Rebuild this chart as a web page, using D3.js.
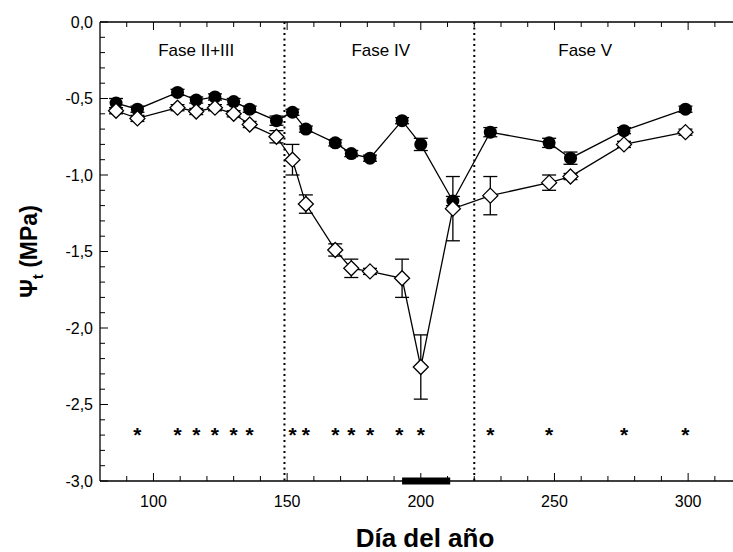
<!DOCTYPE html>
<html><head><meta charset="utf-8">
<script src="https://cdn.jsdelivr.net/npm/d3@7/dist/d3.min.js"></script>
<style>body{margin:0;background:#fff}svg{display:block}text{font-family:Arial,"Liberation Sans",sans-serif;fill:#000}</style>
</head><body><svg id="c" width="733" height="552"></svg>
<script>
const days = [86,94,109,116,123,130,136,146,152,157,168,174,181,193,200,212,226,248,256,276,299];
const closedVals = [-0.53,-0.57,-0.46,-0.51,-0.49,-0.52,-0.57,-0.645,-0.59,-0.70,-0.79,-0.86,-0.89,-0.645,-0.80,-1.17,-0.72,-0.79,-0.89,-0.71,-0.57];
const closedErr  = [0.03,0.02,0.02,0.02,0.02,0.02,0.02,0.03,0.02,0.02,0.02,0.02,0.02,0.02,0.04,0.03,0.03,0.03,0.04,0.02,0.02];
const openVals   = [-0.58,-0.63,-0.56,-0.585,-0.56,-0.60,-0.67,-0.75,-0.90,-1.19,-1.49,-1.61,-1.63,-1.675,-2.255,-1.22,-1.135,-1.05,-1.01,-0.80,-0.72];
const openErr    = [0.02,0.02,0.02,0.02,0.02,0.02,0.02,0.04,0.10,0.06,0.04,0.06,0.02,0.125,0.21,0.21,0.125,0.05,0.02,0.02,0.02];
const starDays = [94,109,116,123,130,136,152,157,168,174,181,192,200,226,248,276,299];
const starY = -2.68;
const phaseBounds = [149,220];
const phaseLabels = [{t:"Fase II+III",d:116},{t:"Fase IV",d:185},{t:"Fase V",d:261.5}];
const barRange = [193,211];
const xMajor = [100,150,200,250,300];
const yMajor = [0,-0.5,-1,-1.5,-2,-2.5,-3];
const xDomain = [80,320], yDomain = [-3,0];

const svg = d3.select("#c");
const L=100, R=741.6, T=22, B=481;
const x = d3.scaleLinear().domain(xDomain).range([L,R]);
const y = d3.scaleLinear().domain(yDomain).range([B,T]);
const fmt = d => d3.format(".1f")(d).replace(".",",").replace("−","-");

const g = svg.append("g");
g.append("line").attr("x1",L).attr("x2",L).attr("y1",T).attr("y2",B).attr("stroke","#000").attr("stroke-width",1.3);
g.append("line").attr("x1",L).attr("x2",R).attr("y1",B).attr("y2",B).attr("stroke","#000").attr("stroke-width",1.3);
g.append("line").attr("x1",L).attr("x2",R).attr("y1",T).attr("y2",T).attr("stroke","#000").attr("stroke-width",1.3);

const yMinor = d3.range(-3,0.001,0.1);
g.selectAll(".ymin").data(yMinor).enter().append("line")
  .attr("x1",L).attr("x2",d=>L+(Math.abs(Math.round(d*10))%5===0?8:5)).attr("y1",d=>y(d)).attr("y2",d=>y(d)).attr("stroke","#000").attr("stroke-width",1);
g.selectAll(".ylab").data(yMajor).enter().append("text")
  .attr("x",L-7).attr("y",d=>y(d)+5.5).attr("text-anchor","end").attr("font-size",16).text(d=>fmt(d));

const xMinor = d3.range(90,320,10);
g.selectAll(".xmin").data(xMinor).enter().append("line")
  .attr("x1",d=>x(d)).attr("x2",d=>x(d)).attr("y1",B).attr("y2",d=>B-(d%50===0?8:5)).attr("stroke","#000").attr("stroke-width",1);
g.selectAll(".xtop").data(xMinor).enter().append("line")
  .attr("x1",d=>x(d)).attr("x2",d=>x(d)).attr("y1",T).attr("y2",d=>T+(d%50===0?8:5)).attr("stroke","#000").attr("stroke-width",1);
g.selectAll(".xlab").data(xMajor).enter().append("text")
  .attr("x",d=>x(d)).attr("y",B+26).attr("text-anchor","middle").attr("font-size",16).text(d=>d);

svg.append("text").attr("x",425).attr("y",547).attr("text-anchor","middle").attr("font-size",26).attr("font-weight","bold").text("Día del año");
const yt = svg.append("text").attr("transform",`translate(37,${(T+B)/2}) rotate(-90)`).attr("text-anchor","middle").attr("font-size",23).attr("font-weight","bold");
yt.append("tspan").text("Ψ");
yt.append("tspan").attr("font-size",15).attr("dy",6).text("t");
yt.append("tspan").attr("dy",-6).text(" (MPa)");

g.selectAll(".ph").data(phaseBounds).enter().append("line")
  .attr("x1",d=>x(d)).attr("x2",d=>x(d)).attr("y1",T).attr("y2",B).attr("stroke","#000").attr("stroke-width",2).attr("stroke-dasharray","2,3.5");
g.selectAll(".phl").data(phaseLabels).enter().append("text")
  .attr("x",d=>x(d.d)).attr("y",y(-0.22)).attr("text-anchor","middle").attr("font-size",17).text(d=>d.t);

g.append("line").attr("x1",x(barRange[0])).attr("x2",x(barRange[1])).attr("y1",B).attr("y2",B).attr("stroke","#000").attr("stroke-width",7);

g.selectAll(".st").data(starDays).enter().append("text")
  .attr("x",d=>x(d)).attr("y",y(starY)+10).attr("text-anchor","middle").attr("font-size",21).attr("font-weight","bold").text("*");

function series(vals, errs, kind){
  const pts = days.map((d,i)=>({d,v:vals[i],e:errs[i]}));
  const gg = svg.append("g");
  gg.append("path").datum(pts).attr("fill","none").attr("stroke","#000").attr("stroke-width",1.3)
    .attr("d",d3.line().x(p=>x(p.d)).y(p=>y(p.v)));
  const eb = gg.selectAll(".eb").data(pts).enter().append("g");
  eb.append("line").attr("x1",p=>x(p.d)).attr("x2",p=>x(p.d)).attr("y1",p=>y(p.v+p.e)).attr("y2",p=>y(p.v-p.e)).attr("stroke","#000").attr("stroke-width",1.3);
  eb.append("line").attr("x1",p=>x(p.d)-7).attr("x2",p=>x(p.d)+7).attr("y1",p=>y(p.v+p.e)).attr("y2",p=>y(p.v+p.e)).attr("stroke","#000").attr("stroke-width",1.3);
  eb.append("line").attr("x1",p=>x(p.d)-7).attr("x2",p=>x(p.d)+7).attr("y1",p=>y(p.v-p.e)).attr("y2",p=>y(p.v-p.e)).attr("stroke","#000").attr("stroke-width",1.3);
  if(kind==="circle"){
    gg.selectAll(".m").data(pts).enter().append("circle").attr("cx",p=>x(p.d)).attr("cy",p=>y(p.v)).attr("r",6.5).attr("fill","#000");
  } else {
    const s=7.5;
    gg.selectAll(".m").data(pts).enter().append("path")
      .attr("d",p=>`M${x(p.d)},${y(p.v)-s}L${x(p.d)+s},${y(p.v)}L${x(p.d)},${y(p.v)+s}L${x(p.d)-s},${y(p.v)}Z`)
      .attr("fill","#fff").attr("stroke","#000").attr("stroke-width",1.3);
  }
}
series(closedVals, closedErr, "circle");
series(openVals, openErr, "diamond");
</script></body></html>
